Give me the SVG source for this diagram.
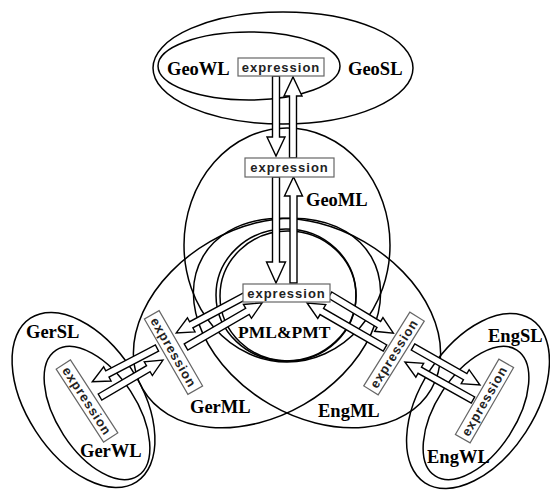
<svg xmlns="http://www.w3.org/2000/svg" width="550" height="493" viewBox="0 0 550 493">
<style>
.ln{fill:none;stroke:#000;stroke-width:1.5}
.arr{fill:#fff;stroke:#000;stroke-width:1.4;stroke-linejoin:miter}
.box{fill:#fff;stroke:#666;stroke-width:1.2}
.ex{font-family:"Liberation Sans",Arial,sans-serif;font-weight:bold;font-size:13px;letter-spacing:1px;text-anchor:middle;fill:#222}
.lb{font-family:"Liberation Serif","Times New Roman",serif;font-weight:bold;font-size:18.5px;fill:#000}
</style>
<rect width="550" height="493" fill="#fff"/>
<g id="sets">
  <ellipse id="GeoSL" class="ln" cx="283" cy="68" rx="130" ry="56"/>
  <ellipse id="GeoWL" class="ln" cx="249" cy="66" rx="91" ry="34"/>
  <ellipse id="GeoML" class="ln" cx="287" cy="245" rx="103" ry="117"/>
  <ellipse id="GerML" class="ln" cx="257" cy="323" rx="132" ry="94" transform="rotate(-30 257 323)"/>
  <ellipse id="EngML" class="ln" cx="317" cy="323" rx="132" ry="94" transform="rotate(30 317 323)"/>
  <ellipse id="PML1" class="ln" cx="286" cy="295" rx="70" ry="66"/>
  <ellipse id="PML2" class="ln" cx="288" cy="296" rx="68" ry="65"/>
  <ellipse id="GerSL" class="ln" cx="83.5" cy="400" rx="97.5" ry="57" transform="rotate(57 83.5 400)"/>
  <ellipse id="GerWL" class="ln" cx="97" cy="413" rx="75" ry="40" transform="rotate(57 97 413)"/>
  <ellipse id="EngSL" class="ln" cx="478" cy="401" rx="97.5" ry="57" transform="rotate(-57 478 401)"/>
  <ellipse id="EngWL" class="ln" cx="476" cy="413" rx="75" ry="40" transform="rotate(-57 476 413)"/>
</g>
<g id="connectors">
  <path class="arr" transform="translate(276,76) rotate(90)" d="M0,-3.5H61V-9L80,0L61,9V3.5H0Z"/>
  <path class="arr" transform="translate(293,158) rotate(-90)" d="M0,-3.5H62V-9L81,0L62,9V3.5H0Z"/>
  <path class="arr" transform="translate(276,177) rotate(90)" d="M0,-3.5H85V-9.5L106,0L85,9.5V3.5H0Z"/>
  <path class="arr" transform="translate(293.5,283) rotate(-90)" d="M0,-3.5H87V-9L106,0L87,9V3.5H0Z"/>
  <path class="arr" transform="translate(245,296) rotate(151.8)" d="M0,-3.5H61V-8L78,0L61,8V3.5H0Z"/>
  <path class="arr" transform="translate(186,347) rotate(-30.1)" d="M0,-3.5H71V-8L88,0L71,8V3.5H0Z"/>
  <path class="arr" transform="translate(157,348) rotate(152.4)" d="M0,-3.5H56V-8L73,0L56,8V3.5H0Z"/>
  <path class="arr" transform="translate(100,397) rotate(-30.4)" d="M0,-3.5H56V-8L73,0L56,8V3.5H0Z"/>
  <path class="arr" transform="translate(330,295) rotate(31.1)" d="M0,-3.5H57V-8L74,0L57,8V3.5H0Z"/>
  <path class="arr" transform="translate(385,348) rotate(-150)" d="M0,-3.5H73V-8L90,0L73,8V3.5H0Z"/>
  <path class="arr" transform="translate(413,347) rotate(29.6)" d="M0,-3.5H60V-8L77,0L60,8V3.5H0Z"/>
  <path class="arr" transform="translate(473,400) rotate(-150.8)" d="M0,-3.5H61V-8L78,0L61,8V3.5H0Z"/>
</g>
<g id="geo-wl-expr"><rect class="box" x="238" y="58" width="86" height="18"/><text class="ex" x="281" y="72">expression</text></g>
<g id="geo-ml-expr"><rect class="box" x="245" y="158" width="89" height="19"/><text class="ex" x="289.5" y="172">expression</text></g>
<g id="pml-expr"><rect class="box" x="243" y="284" width="87" height="18"/><text class="ex" x="286.5" y="298">expression</text></g>
<g id="ger-ml-expr" transform="translate(173.5,352.5) rotate(60)"><rect class="box" x="-43.5" y="-8.5" width="87" height="17"/><text class="ex" x="0" y="4.5">expression</text></g>
<g id="ger-wl-expr" transform="translate(87,401) rotate(57)"><rect class="box" x="-43.5" y="-8.5" width="87" height="17"/><text class="ex" x="0" y="4.5">expression</text></g>
<g id="eng-ml-expr" transform="translate(394,353.5) rotate(-58)"><rect class="box" x="-43.5" y="-8.5" width="87" height="17"/><text class="ex" x="0" y="4.5">expression</text></g>
<g id="eng-wl-expr" transform="translate(484.5,401) rotate(-60)"><rect class="box" x="-43.5" y="-8.5" width="87" height="17"/><text class="ex" x="0" y="4.5">expression</text></g>
<g id="labels">
  <text class="lb" x="167" y="75">GeoWL</text>
  <text class="lb" x="348" y="75">GeoSL</text>
  <text class="lb" x="306" y="206">GeoML</text>
  <text class="lb" x="238" y="338" style="font-size:17.5px">PML&amp;PMT</text>
  <text class="lb" x="26" y="338">GerSL</text>
  <text class="lb" x="80" y="457">GerWL</text>
  <text class="lb" x="190" y="413">GerML</text>
  <text class="lb" x="318" y="417">EngML</text>
  <text class="lb" x="488" y="342">EngSL</text>
  <text class="lb" x="427" y="463">EngWL</text>
</g>
</svg>
